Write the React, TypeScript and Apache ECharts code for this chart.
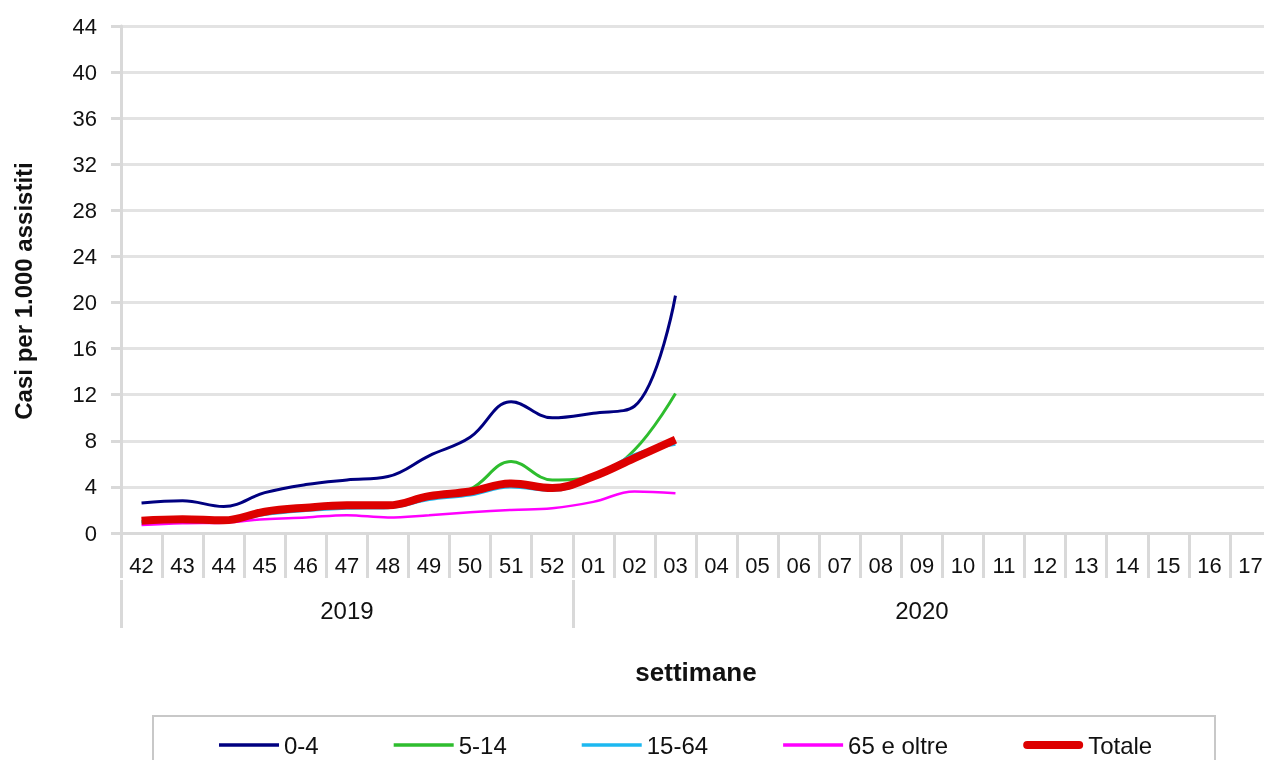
import React, { useEffect, useRef } from "react";
import * as echarts from "echarts";

const weeks = ["42","43","44","45","46","47","48","49","50","51","52","01","02","03","04","05","06","07","08","09","10","11","12","13","14","15","16","17"];
const yearLabels: Record<number, string> = { 5: "2019", 19: "2020" };
const yearBoundaries = [0, 11];

const s04 = [2.6, 2.8, 2.3, 3.5, 4.2, 4.6, 4.9, 6.7, 8.3, 11.4, 10.0, 10.4, 11.0, 20.6];
const s514 = [1.0, 1.1, 1.0, 1.8, 2.1, 2.3, 2.3, 3.0, 3.8, 6.2, 4.6, 4.9, 7.2, 12.1];
const s1564 = [0.9, 1.0, 0.95, 1.6, 1.95, 2.15, 2.2, 2.9, 3.3, 4.0, 3.7, 4.8, 6.8, 7.7];
const s65 = [0.7, 0.85, 0.9, 1.2, 1.35, 1.55, 1.35, 1.55, 1.8, 2.0, 2.15, 2.7, 3.6, 3.45];
const sTot = [1.07, 1.2, 1.1, 1.85, 2.2, 2.4, 2.4, 3.2, 3.6, 4.3, 3.9, 4.9, 6.5, 8.1];

const seriesNames = ["0-4", "5-14", "15-64", "65 e oltre", "Totale"];
const seriesData = [s04, s514, s1564, s65, sTot];
const seriesColors = ["#000080", "#2ebd2e", "#1cb8f0", "#ff00ff", "#dd0000"];
const seriesWidths = [3, 3, 3, 2.5, 8];

export default function App() {
  const ref = useRef<HTMLDivElement>(null);
  useEffect(() => {
    if (!ref.current) return;
    const chart = echarts.init(ref.current, null, { renderer: "svg" });
    const font = "Arial, 'Liberation Sans', sans-serif";
    const grey = "#d9d9d9";
    chart.setOption({
      animation: false,
      textStyle: { fontFamily: font },
      grid: { left: 121, right: -7, top: 26, bottom: 227, containLabel: false, outerBoundsMode: "none" },
      legend: {
        left: 214,
        top: 728,
        itemWidth: 60,
        itemHeight: 14,
        itemGap: 75,
        textStyle: { fontSize: 24, color: "#111", fontFamily: font },
        data: seriesNames.map((n, k) => ({
          name: n,
          icon: k === 4 ? "path://M4 0H56A4 4 0 0 1 56 8H4A4 4 0 0 1 4 0Z" : "path://M0 0H60V3.5H0Z",
        })),
      },
      graphic: [
        {
          type: "rect",
          shape: { x: 153, y: 716, width: 1062, height: 80 },
          style: { fill: "none", stroke: "#c8c8c8", lineWidth: 2 },
          silent: true,
          z: -1,
        },
        {
          type: "text",
          x: 23,
          y: 291,
          rotation: Math.PI / 2,
          style: {
            text: "Casi per 1.000 assistiti",
            font: "bold 24px Arial, 'Liberation Sans', sans-serif",
            fill: "#111",
            align: "center",
            verticalAlign: "middle",
          },
        },
      ],
      xAxis: [
        {
          type: "category",
          data: weeks,
          boundaryGap: true,
          position: "bottom",
          name: "settimane",
          nameLocation: "middle",
          nameGap: 126,
          nameTextStyle: { fontSize: 26, fontWeight: "bold", color: "#111" },
          axisLine: { show: true, lineStyle: { color: grey, width: 3 } },
          axisTick: { show: true, length: 45, lineStyle: { color: grey, width: 3 } },
          axisLabel: { fontSize: 22, color: "#111", margin: 21, interval: 0 },
          splitLine: { show: false },
        },
        {
          type: "category",
          data: weeks,
          boundaryGap: true,
          position: "bottom",
          offset: 47,
          axisLine: { show: false },
          axisTick: {
            show: true,
            length: 48,
            interval: (i: number) => yearBoundaries.indexOf(i) >= 0,
            lineStyle: { color: grey, width: 3 },
          },
          axisLabel: {
            fontSize: 24,
            color: "#111",
            margin: 18,
            interval: 0,
            formatter: (_v: string, i: number) => yearLabels[i] || "",
          },
          splitLine: { show: false },
        },
      ],
      yAxis: {
        type: "value",
        min: 0,
        max: 44,
        interval: 4,
        axisLine: { show: true, lineStyle: { color: grey, width: 3 } },
        axisTick: { show: true, length: 10, lineStyle: { color: grey, width: 3 } },
        axisLabel: { fontSize: 22, color: "#111", margin: 24 },
        splitLine: { show: true, lineStyle: { color: "#e3e3e3", width: 3 } },
      },
      series: seriesNames.map((name, k) => ({
        name,
        type: "line",
        data: seriesData[k],
        smooth: 0.4,
        symbol: "none",
        z: k === 4 ? 5 : 3,
        itemStyle: { color: seriesColors[k] },
        lineStyle: { color: seriesColors[k], width: seriesWidths[k] },
      })),
    });
    return () => chart.dispose();
  }, []);
  return (
    <div
      ref={ref}
      style={{ position: "fixed", left: 0, top: 0, width: 1264, height: 760 }}
    />
  );
}
